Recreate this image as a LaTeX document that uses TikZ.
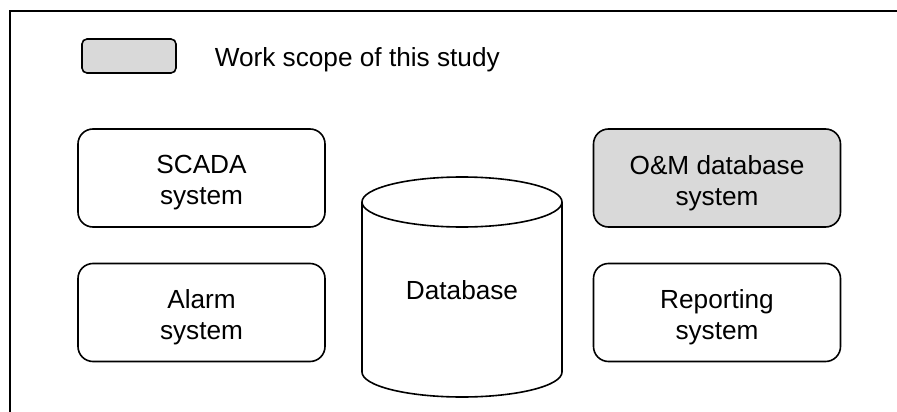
\documentclass[tikz,border=0pt]{standalone}
\usepackage{fontspec}
\setmainfont{Liberation Sans}
\begin{document}
\begin{tikzpicture}[x=1pt,y=-1pt,
  line width=1.6pt,
  every node/.style={font=\fontsize{26.2}{31}\selectfont, align=center, inner sep=0pt},
  sysbox/.style={draw, rounded corners=15pt, minimum width=247pt, minimum height=98pt},
  scope/.style={fill=gray!30}]
  \useasboundingbox (0,0) rectangle (897,412);
  % open frame: top and left edges only
  \coordinate (ftl) at (10,11);
  \coordinate (ftr) at (897,11);
  \coordinate (fbl) at (10,412);
  \draw (ftr) -- (ftl) -- (fbl);

  % legend
  \node[draw, scope, rounded corners=5pt, minimum width=94pt, minimum height=34pt] (legend) at (129,56) {};
  \node[anchor=west] (legendtext) at (214,60) {Work scope of this study};

  % systems (boxes, then their labels)
  \node[sysbox] (scada) at (201.5,178) {};
  \node[sysbox] (alarm) at (201.5,312.5) {};
  \node[sysbox, scope] (om) at (717,178) {};
  \node[sysbox] (report) at (717,312.5) {};
  \node (scadatext) at (201.5,183) {SCADA\\system};
  \node (alarmtext) at (201.5,317.5) {Alarm\\system};
  \node (omtext) at (717,183) {O\&M database\\system};
  \node (reporttext) at (717,317.5) {Reporting\\system};

  % database cylinder
  \draw (462,202) ellipse [x radius=100, y radius=25];
  \draw (362,202) -- (362,372) arc [start angle=180, end angle=360, x radius=100, y radius=-25] -- (562,202);
  \node (db) at (462,290) {Database};
\end{tikzpicture}
\end{document}
